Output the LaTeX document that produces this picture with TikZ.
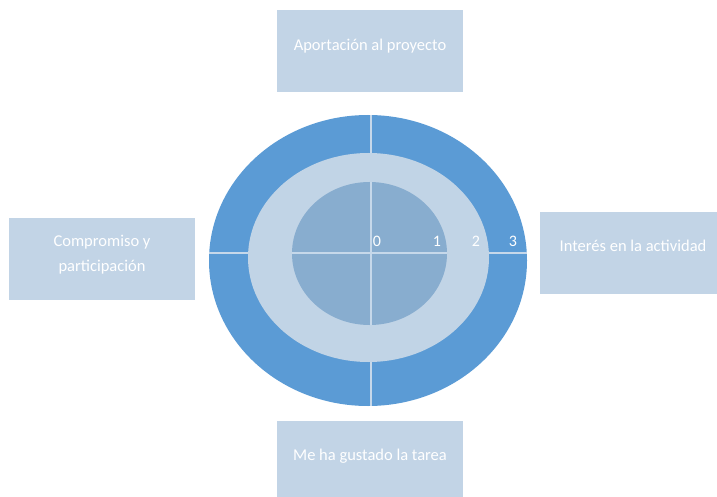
\documentclass[tikz,border=0pt]{standalone}
\usepackage{fontspec}
\setmainfont{Carlito}
\definecolor{outerc}{HTML}{5B9BD5}
\definecolor{midc}{HTML}{C1D4E6}
\definecolor{innerc}{HTML}{88ADCF}
\definecolor{boxc}{HTML}{C2D4E6}
\definecolor{linec}{HTML}{C6D8EA}
\tikzset{
  labelbox/.style={fill=boxc, draw=none, minimum width=186pt, minimum height=82pt, inner sep=0pt},
  boxtext/.style={text=white, font=\fontsize{16.5}{25}\selectfont, align=center, inner sep=0pt},
  scalelbl/.style={text=white, font=\fontsize{16}{18}\selectfont, inner sep=0pt},
  divider/.style={draw=linec, line width=1.4pt}
}
\begin{document}
\begin{tikzpicture}[x=1pt,y=-1pt]
\useasboundingbox (0,0) rectangle (717,497);
% rings
\fill[outerc] (368,260.5) ellipse [x radius=159, y radius=145.5];
\coordinate (c) at (371,253);
\draw[divider] (371,115) -- (371,406);
\draw[divider] (209,253) -- (527,253);
\fill[midc] (368.5,257.5) ellipse [x radius=120.5, y radius=104.5];
\fill[innerc] (369.5,253.5) ellipse [x radius=77.5, y radius=71.5];
\draw[divider] (371,182) -- (371,325);
\draw[divider] (292,253) -- (447,253);
% scale labels
\node[scalelbl] (l0) at (377,241) {0};
\node[scalelbl] (l1) at (437,241) {1};
\node[scalelbl] (l2) at (476,241) {2};
\node[scalelbl] (l3) at (513,241) {3};
% boxes
\node[labelbox] (top) at (370,51.5) {};
\node[boxtext] (toptext) at (370,46) {Aportación al proyecto};
\node[labelbox] (right) at (633,253) {};
\node[boxtext] (righttext) at (633,246) {Interés en la actividad};
\node[labelbox] (left) at (102,259) {};
\node[boxtext] (lefttext) at (102,255) {Compromiso y\\participación};
\node[labelbox, minimum height=76pt] (bottom) at (370,459) {};
\node[boxtext] (bottomtext) at (370,456) {Me ha gustado la tarea};
\end{tikzpicture}
\end{document}
